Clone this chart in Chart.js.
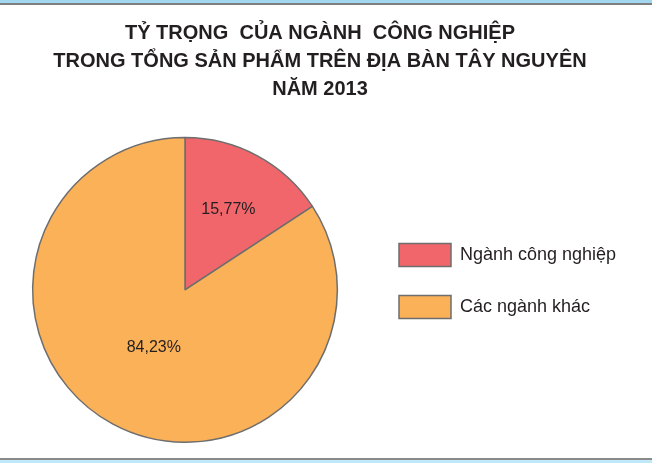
<!DOCTYPE html>
<html>
<head>
    <meta charset="utf-8">
    <title>Tỷ trọng của ngành công nghiệp - Tây Nguyên 2013</title>
    <script src="https://cdn.jsdelivr.net/npm/chart.js@4"></script>
    <style>
        body { margin: 0; background: #fff; }
        #wrap { position: relative; width: 652px; height: 463px; overflow: hidden; }
        #wrap canvas { position: absolute; left: 0; top: 0; }
        .band { position: absolute; left: 0; width: 652px; }
    </style>
</head>
<body>
    <div id="wrap">
        <canvas id="pieChart" width="652" height="463"></canvas>
        <div class="band" style="top:0;height:3px;background:#a3d6ef;"></div>
        <div class="band" style="top:3px;height:2px;background:#7f7f7f;"></div>
        <div class="band" style="top:458px;height:2px;background:#8a8a8a;"></div>
        <div class="band" style="top:460px;height:3px;background:#bfe9f9;"></div>
    </div>

    <script>
        // data
        const titleLines = [
            'TỶ TRỌNG  CỦA NGÀNH  CÔNG NGHIỆP',
            'TRONG TỔNG SẢN PHẨM TRÊN ĐỊA BÀN TÂY NGUYÊN',
            'NĂM 2013'
        ];
        const categories = ['Ngành công nghiệp', 'Các ngành khác'];
        const shares = [15.77, 84.23];
        const sliceColors = ['#f0666b', '#fbb157'];

        const font = '"Liberation Sans", Arial, sans-serif';
        const labelRadius = [0.6, 0.43];
        const legendWidth = 270;
        const legendDrop = 69;

        // percent labels inside the slices
        const sliceLabels = {
            id: 'sliceLabels',
            afterDatasetsDraw(chart) {
                const ctx = chart.ctx;
                const meta = chart.getDatasetMeta(0);
                ctx.save();
                ctx.font = '16px ' + font;
                ctx.fillStyle = '#231f20';
                ctx.textAlign = 'center';
                ctx.textBaseline = 'middle';
                meta.data.forEach((arc, i) => {
                    const p = arc.getProps(['x', 'y', 'startAngle', 'endAngle', 'outerRadius'], true);
                    const mid = (p.startAngle + p.endAngle) / 2;
                    const r = p.outerRadius * labelRadius[i];
                    const text = shares[i].toFixed(2).replace('.', ',') + '%';
                    ctx.fillText(text, p.x + Math.cos(mid) * r, p.y + Math.sin(mid) * r);
                });
                ctx.restore();
            }
        };

        // widen the legend box and move its items down next to the pie
        const legendSpace = {
            id: 'legendSpace',
            beforeLayout(chart) {
                const legend = chart.legend;
                if (!legend || legend._patched) return;
                const fit = legend.fit;
                legend.fit = function () {
                    fit.call(this);
                    this.width = legendWidth;
                    if (this.columnSizes && this.columnSizes[0]) this.columnSizes[0].height += 19;
                };
                legend._patched = true;
            },
            afterLayout(chart) {
                const legend = chart.legend;
                if (!legend) return;
                legend.top += legendDrop;
                legend.bottom += legendDrop;
            }
        };

        new Chart(document.getElementById('pieChart').getContext('2d'), {
            type: 'pie',
            data: {
                labels: categories,
                datasets: [{
                    data: shares,
                    backgroundColor: sliceColors,
                    borderColor: '#6e6e6e',
                    borderWidth: 1.5
                }]
            },
            options: {
                responsive: false,
                animation: false,
                layout: { padding: { left: 0, right: 12, top: 0, bottom: 20 } },
                plugins: {
                    title: {
                        display: true,
                        text: titleLines,
                        color: '#231f20',
                        font: { family: font, size: 20, weight: 'bold', lineHeight: 1.38 },
                        padding: { top: 20, bottom: 34 }
                    },
                    legend: {
                        position: 'right',
                        labels: {
                            boxWidth: 52,
                            boxHeight: 23,
                            padding: 29,
                            color: '#231f20',
                            font: { family: font, size: 18 }
                        }
                    },
                    tooltip: { enabled: false }
                }
            },
            plugins: [sliceLabels, legendSpace]
        });
    </script>
</body>
</html>
